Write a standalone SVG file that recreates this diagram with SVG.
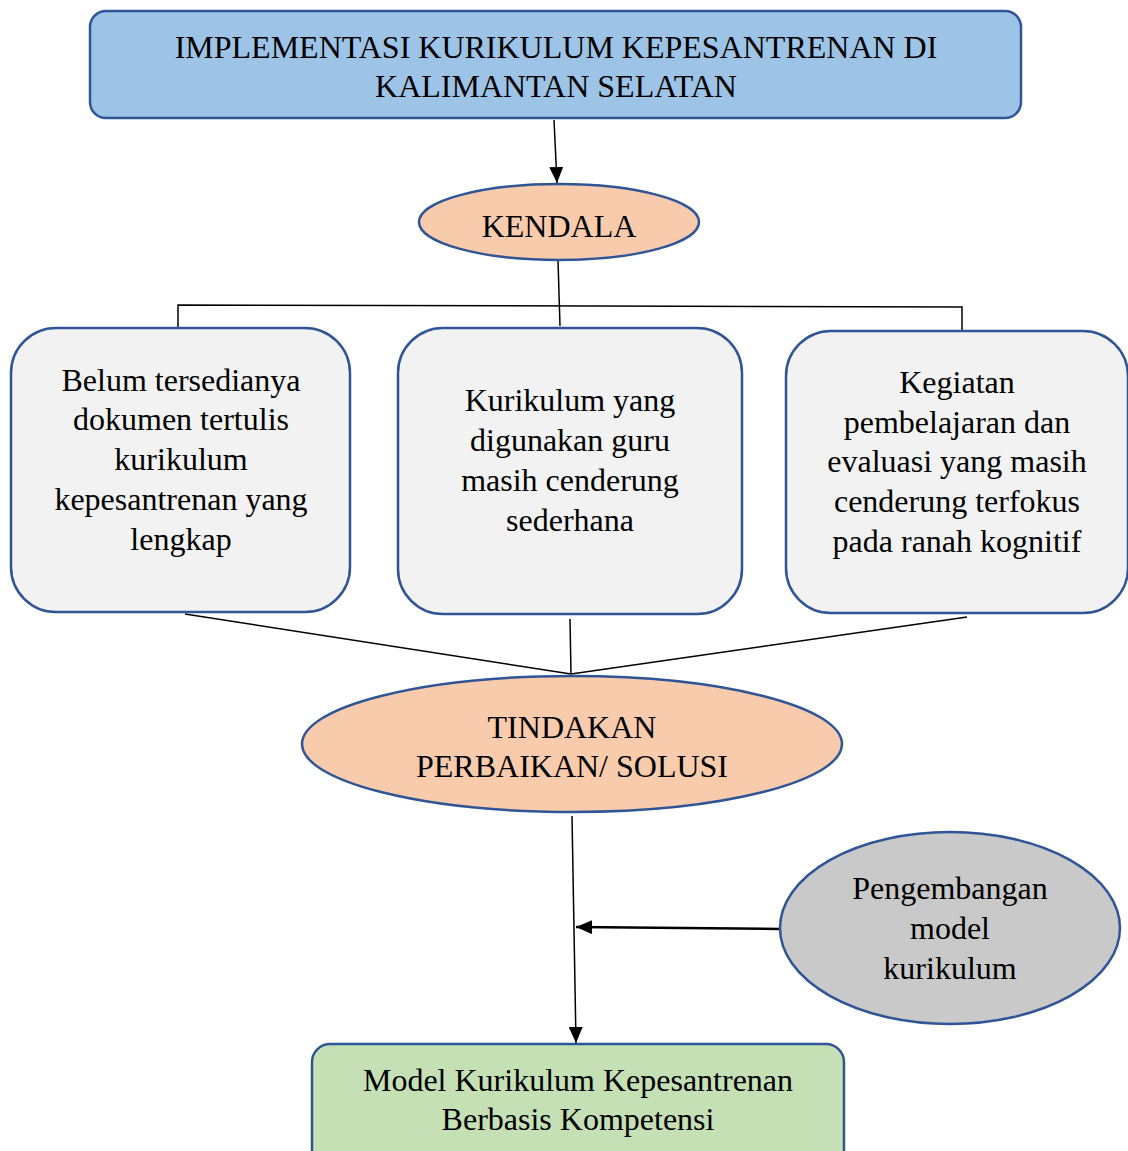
<svg xmlns="http://www.w3.org/2000/svg" width="1128" height="1151" viewBox="0 0 1128 1151">
<defs>
<marker id="ah" viewBox="0 0 10 10" refX="10" refY="5" markerWidth="16" markerHeight="14" markerUnits="userSpaceOnUse" orient="auto" preserveAspectRatio="none"><path d="M0,0 L10,5 L0,10 z" fill="#000"/></marker>
<style>
text{font-family:"Liberation Serif","Times New Roman",serif;font-size:32px;fill:#000;text-anchor:middle}
.shape{stroke:#2F5597;stroke-width:2.5}
.con{stroke:#000;stroke-width:1.5;fill:none}
</style>
</defs>
<rect width="1128" height="1151" fill="#fff"/>
<g id="connectors">
<line class="con" x1="554" y1="120" x2="557" y2="183" marker-end="url(#ah)"/>
<polyline class="con" points="558,260 560,326"/>
<polyline class="con" points="178,330 178,305 962,307 962,331"/>
<line class="con" x1="185" y1="614" x2="571" y2="674"/>
<line class="con" x1="570" y1="619" x2="571" y2="674"/>
<line class="con" x1="967" y1="617" x2="571" y2="674"/>
<line class="con" x1="572" y1="816" x2="576" y2="1043" marker-end="url(#ah)"/>
<line class="con" x1="780" y1="929" x2="576" y2="927" style="stroke-width:2.5" marker-end="url(#ah)"/>
</g>
<g id="top">
<rect class="shape" x="90" y="11" width="931" height="107" rx="16" fill="#9DC3E6"/>
<text x="556" y="58">IMPLEMENTASI KURIKULUM KEPESANTRENAN DI</text>
<text x="556" y="97">KALIMANTAN SELATAN</text>
</g>
<g id="kendala">
<ellipse class="shape" cx="559" cy="222" rx="140" ry="38" fill="#F8CBAD"/>
<text x="559" y="237">KENDALA</text>
</g>
<g id="box1">
<rect class="shape" x="11" y="328" width="339" height="284" rx="45" fill="#F2F2F2"/>
<text x="181" y="391">Belum tersedianya</text>
<text x="181" y="430">dokumen tertulis</text>
<text x="181" y="470">kurikulum</text>
<text x="181" y="510">kepesantrenan yang</text>
<text x="181" y="550">lengkap</text>
</g>
<g id="box2">
<rect class="shape" x="398" y="328" width="344" height="286" rx="45" fill="#F2F2F2"/>
<text x="570" y="411">Kurikulum yang</text>
<text x="570" y="451">digunakan guru</text>
<text x="570" y="491">masih cenderung</text>
<text x="570" y="531">sederhana</text>
</g>
<g id="box3">
<rect class="shape" x="786" y="331" width="342" height="282" rx="45" fill="#F2F2F2"/>
<text x="957" y="393">Kegiatan</text>
<text x="957" y="433">pembelajaran dan</text>
<text x="957" y="472">evaluasi yang masih</text>
<text x="957" y="512">cenderung terfokus</text>
<text x="957" y="552">pada ranah kognitif</text>
</g>
<g id="tindakan">
<ellipse class="shape" cx="572" cy="744" rx="270" ry="68" fill="#F8CBAD"/>
<text x="572" y="738">TINDAKAN</text>
<text x="572" y="777">PERBAIKAN/ SOLUSI</text>
</g>
<g id="pengembangan">
<ellipse class="shape" cx="950" cy="928" rx="170" ry="96" fill="#C9C9C9"/>
<text x="950" y="899">Pengembangan</text>
<text x="950" y="939">model</text>
<text x="950" y="979">kurikulum</text>
</g>
<g id="model">
<rect class="shape" x="312" y="1044" width="532" height="130" rx="18" fill="#C5E0B4"/>
<text x="578" y="1091">Model Kurikulum Kepesantrenan</text>
<text x="578" y="1130">Berbasis Kompetensi</text>
</g>
</svg>
